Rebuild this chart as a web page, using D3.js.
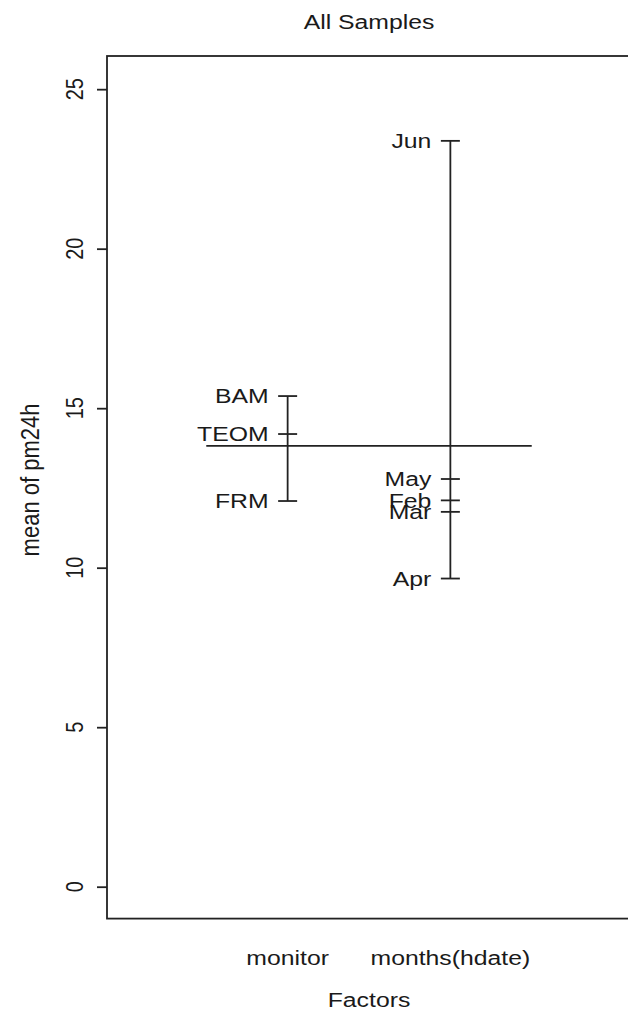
<!DOCTYPE html>
<html>
<head>
<meta charset="utf-8">
<script src="https://cdn.jsdelivr.net/npm/d3@7"></script>
<style>
  body { margin: 0; background: #fff; }
  text { font-family: "Liberation Sans", Arial, sans-serif; fill: #1a1a1a; }
</style>
</head>
<body>
<script>
// data
var factors = ["monitor", "months(hdate)"];
var monitorLevels = ["BAM", "TEOM", "FRM"];
var monitorMeans = [15.38, 14.19, 12.09];
var monthLevels = ["Jun", "May", "Feb", "Mar", "Apr"];
var monthMeans = [23.38, 12.78, 12.11, 11.75, 9.66];
var grandMean = 13.82;
var yTicks = [0, 5, 10, 15, 20, 25];

var width = 628, height = 1021;
var fs = 21, sx = 1.18; // text is a bit wider than tall in the original

var svg = d3.select("body").append("svg")
    .attr("width", width)
    .attr("height", height);

var x = d3.scaleLinear().domain([-0.11, 3.11]).range([107, 631]);
var y = d3.scaleLinear().domain([-1.0, 26.04]).range([918.6, 56]);

var ink = "#222";
var lw = 1.8;

// text helper, stretched horizontally on screen
function label(px, py, str, anchor, rot, size) {
    return svg.append("text")
        .attr("transform", "translate(" + px + "," + py + ") scale(" + sx + ",1)" + (rot ? " rotate(" + rot + ")" : ""))
        .attr("text-anchor", anchor || "middle")
        .attr("dominant-baseline", "central")
        .style("font-size", (size || fs) + "px")
        .text(str);
}

// box
svg.append("rect")
    .attr("x", x.range()[0]).attr("y", y.range()[1])
    .attr("width", x.range()[1] - x.range()[0])
    .attr("height", y.range()[0] - y.range()[1])
    .attr("fill", "none").attr("stroke", ink).attr("stroke-width", lw);

// y axis
var yAxis = svg.append("g")
    .attr("transform", "translate(" + x.range()[0] + ",0)")
    .call(d3.axisLeft(y).tickValues(yTicks).tickSize(10).tickFormat(""));
yAxis.select(".domain").remove();
yAxis.selectAll("line").attr("stroke", ink).attr("stroke-width", lw);

yTicks.forEach(function (t) {
    label(75, y(t), t, "middle", -90, 20);
});

// grand mean
svg.append("line")
    .attr("x1", x(0.5)).attr("x2", x(2.5))
    .attr("y1", y(grandMean)).attr("y2", y(grandMean))
    .attr("stroke", ink).attr("stroke-width", lw);

// factors
var groups = [
    { levels: monitorLevels, means: monitorMeans },
    { levels: monthLevels, means: monthMeans }
];

groups.forEach(function (g, i) {
    var cx = x(i + 1);
    svg.append("line")
        .attr("x1", cx).attr("x2", cx)
        .attr("y1", y(d3.max(g.means))).attr("y2", y(d3.min(g.means)))
        .attr("stroke", ink).attr("stroke-width", lw);

    svg.selectAll(null).data(g.means).enter().append("line")
        .attr("x1", cx - 9.5).attr("x2", cx + 9.5)
        .attr("y1", function (d) { return y(d); })
        .attr("y2", function (d) { return y(d); })
        .attr("stroke", ink).attr("stroke-width", lw);

    g.levels.forEach(function (lv, j) {
        label(cx - 19, y(g.means[j]), lv, "end");
    });

    label(cx, 958, factors[i], "middle");
});

// titles
label((x.range()[0] + x.range()[1]) / 2, 22, "All Samples", "middle");
label((x.range()[0] + x.range()[1]) / 2, 1000, "Factors", "middle");
label(30, 480, "mean of pm24h", "middle", -90, 22);
</script>
</body>
</html>
